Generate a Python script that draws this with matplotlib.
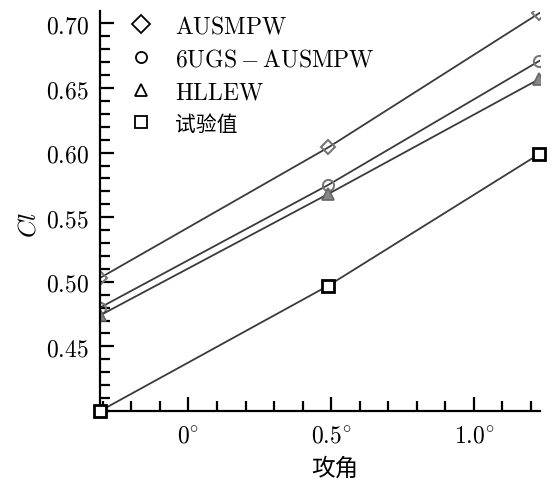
import matplotlib
matplotlib.use('Agg')
import matplotlib.pyplot as plt
from matplotlib.lines import Line2D
from matplotlib.ticker import MultipleLocator, FixedLocator

plt.rcParams['mathtext.fontset'] = 'cm'
plt.rcParams['font.family'] = ['DejaVu Serif']

# angle of attack (deg) and lift coefficient
alpha = [-0.31, 0.49, 1.23]
cl_ausmpw = [0.503, 0.604, 0.708]
cl_6ugs = [0.480, 0.575, 0.671]
cl_hllew = [0.474, 0.568, 0.657]
cl_exp = [0.400, 0.497, 0.599]

labels = [r'$\mathrm{AUSMPW}$', r'$\mathrm{6UGS-AUSMPW}$', r'$\mathrm{HLLEW}$', '试验值']
xticks = [0.0, 0.5, 1.0]
xticklabels = [r'$0^{\circ}$', r'$0.5^{\circ}$', r'$1.0^{\circ}$']
yticks = [0.45, 0.50, 0.55, 0.60, 0.65, 0.70]

fig = plt.figure(figsize=(5.53, 4.81), dpi=100)
ax = fig.add_axes([100/553, 1-412/481, 440/553, 400/481])

lc = '#3a3a3a'
ax.plot(alpha, cl_ausmpw, color=lc, lw=1.3, marker='D', ms=7, mfc='none', mec='#777777', mew=1.5)
ax.plot(alpha, cl_6ugs, color=lc, lw=1.3, marker='o', ms=8, mfc='none', mec='#777777', mew=1.5)
ax.plot(alpha, cl_hllew, color=lc, lw=1.3, marker='^', ms=8, mfc='#888888', mec='#666666', mew=1.2)
ax.plot(alpha, cl_exp, color=lc, lw=1.3, marker='s', ms=8, mfc='white', mec='black', mew=2, clip_on=False, zorder=5)

ax.set_xlim(-0.31, 1.232)
ax.set_ylim(0.40, 0.7096)

for s in ['top', 'right']:
    ax.spines[s].set_visible(False)
for s in ['left', 'bottom']:
    ax.spines[s].set_linewidth(1.6)

ax.xaxis.set_major_locator(FixedLocator(xticks))
ax.set_xticklabels(xticklabels)
ax.xaxis.set_minor_locator(MultipleLocator(0.1))
ax.yaxis.set_major_locator(FixedLocator(yticks))
ax.set_yticklabels([r'$%.2f$' % v for v in yticks])
ax.yaxis.set_minor_locator(MultipleLocator(0.01))
ax.tick_params(which='major', direction='in', length=10, width=1.6, labelsize=17, pad=8)
ax.tick_params(which='minor', direction='in', length=7, width=1.6)
ax.tick_params(axis='x', which='major', pad=9)

ax.set_xlabel('攻角', family=['Noto Sans CJK SC'], fontsize=17)
ax.xaxis.set_label_coords(0.534, -0.115)
ax.set_ylabel(r'$Cl$', fontsize=18)
ax.yaxis.set_label_coords(-0.135, 0.4675)

handles = [
    Line2D([], [], ls='none', marker='D', ms=9, mfc='white', mec='black', mew=1.3),
    Line2D([], [], ls='none', marker='o', ms=8, mfc='white', mec='black', mew=1.3),
    Line2D([], [], ls='none', marker='^', ms=9, mfc='white', mec='black', mew=1.3),
    Line2D([], [], ls='none', marker='s', ms=8, mfc='white', mec='black', mew=1.3),
]
leg = ax.legend(handles, labels, loc='upper left', bbox_to_anchor=(0.013, 1.045), frameon=False,
                fontsize=17, handlelength=1.2, handletextpad=0.85, labelspacing=0.42)
leg.get_texts()[3].set_family(['Noto Sans CJK SC'])
leg.get_texts()[3].set_fontsize(15)

fig.savefig('out.png', dpi=100)
